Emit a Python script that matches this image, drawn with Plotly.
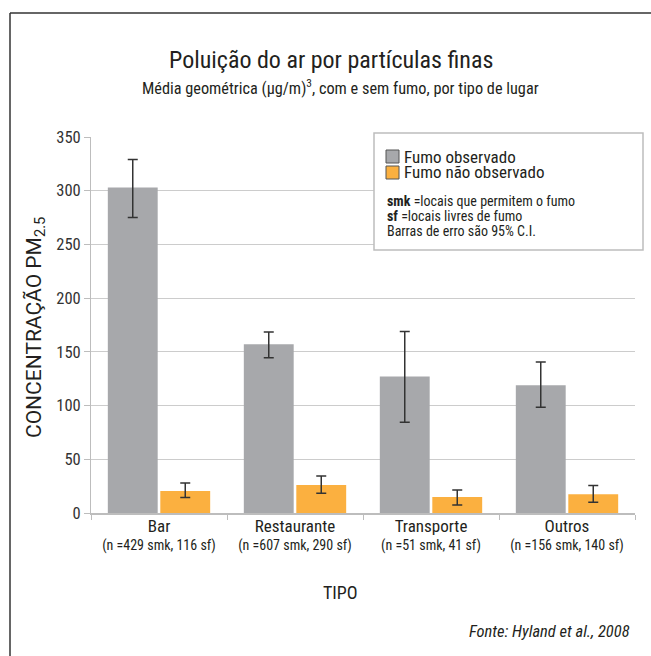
import plotly.graph_objects as go

# ---- data ----
categories = ["Bar", "Restaurante", "Transporte", "Outros"]
sample_labels = ["(n =429 smk, 116 sf)", "(n =607 smk, 290 sf)",
                 "(n =51 smk, 41 sf)", "(n =156 smk, 140 sf)"]
smk_values = [303, 157, 127, 119]
smk_upper = [329, 168.5, 169, 140.5]
smk_lower = [275, 144.5, 84.5, 98.5]
sf_values = [20.5, 26, 15, 17.5]
sf_upper = [28, 34.5, 21.5, 25.5]
sf_lower = [14.5, 18.5, 7.5, 10]
y_ticks = [0, 50, 100, 150, 200, 250, 300, 350]

FONT = "Roboto Condensed, Roboto, sans-serif"
GRAY = "#a7a8ab"
ORANGE = "#fbb040"
TXT = "#231f20"

W, H = 651, 656
L, R, T, B = 91, 635, 137, 513


def px(x):
    return (x - L) / (R - L)


def py(y):
    return (B - y) / (B - T)


ticktext = [f"<span style='font-size:17px'>{c}</span><br>{s}"
            for c, s in zip(categories, sample_labels)]

fig = go.Figure()
fig.add_trace(go.Bar(
    x=categories, y=smk_values, name="Fumo observado",
    marker=dict(color=GRAY, line=dict(width=0)),
    error_y=dict(type="data", symmetric=False,
                 array=[u - v for u, v in zip(smk_upper, smk_values)],
                 arrayminus=[v - l for v, l in zip(smk_values, smk_lower)],
                 color="#333333", thickness=1.5, width=5),
))
fig.add_trace(go.Bar(
    x=categories, y=sf_values, name="Fumo não observado",
    marker=dict(color=ORANGE, line=dict(width=0)),
    error_y=dict(type="data", symmetric=False,
                 array=[u - v for u, v in zip(sf_upper, sf_values)],
                 arrayminus=[v - l for v, l in zip(sf_values, sf_lower)],
                 color="#333333", thickness=1.5, width=5),
))

shapes = [
    # outer frame (top and left)
    dict(type="line", xref="paper", yref="paper", x0=px(10), x1=px(660),
         y0=py(13), y1=py(13), line=dict(color="#333333", width=1.5)),
    dict(type="line", xref="paper", yref="paper", x0=px(10), x1=px(10),
         y0=py(13), y1=py(670), line=dict(color="#333333", width=1.5)),
    # legend box
    dict(type="rect", xref="paper", yref="paper", x0=px(374), x1=px(643),
         y0=py(133), y1=py(250), fillcolor="white",
         line=dict(color="#bdbdbd", width=1.5), layer="above"),
    dict(type="rect", xref="paper", yref="paper", x0=px(386), x1=px(399),
         y0=py(150), y1=py(163), fillcolor=GRAY,
         line=dict(color="#555555", width=1), layer="above"),
    dict(type="rect", xref="paper", yref="paper", x0=px(386), x1=px(399),
         y0=py(166), y1=py(179), fillcolor=ORANGE,
         line=dict(color="#555555", width=1), layer="above"),
]


def ann(text, x, y, size, xanchor="center", yanchor="middle", angle=0,
        color=TXT, family=FONT):
    return dict(text=text, xref="paper", yref="paper", x=px(x), y=py(y),
                xanchor=xanchor, yanchor=yanchor, showarrow=False,
                textangle=angle, font=dict(family=family, size=size, color=color))


annotations = [
    ann("Poluição do ar por partículas finas", 331, 60, 24),
    ann("Média geométrica (µg/m)<sup>3</sup>, com e sem fumo, por tipo de lugar", 340, 87, 16.3),
    ann("Fumo observado", 402, 157, 17, xanchor="left"),
    ann("Fumo não observado", 402, 172, 17, xanchor="left"),
    ann("<b>smk</b> =locais que permitem o fumo", 385, 201, 14, xanchor="left"),
    ann("<b>sf</b> =locais livres de fumo", 385, 216, 14, xanchor="left"),
    ann("Barras de erro são 95% C.I.", 385, 231, 14, xanchor="left"),
    ann("CONCENTRAÇÃO PM<sub>2.5</sub>", 35, 328, 21, angle=-90,
        family="Roboto, sans-serif"),
    ann("TIPO", 340, 592, 18),
    ann("<i>Fonte: Hyland et al., 2008</i>", 632, 631, 16.5, xanchor="right"),
]

fig.update_layout(
    width=W, height=H,
    margin=dict(l=L, r=W - R, t=T, b=H - B, pad=0),
    paper_bgcolor="white", plot_bgcolor="white",
    barmode="group", bargap=0.228, bargroupgap=0.05,
    showlegend=False,
    font=dict(family=FONT, color=TXT),
    shapes=shapes, annotations=annotations,
)
fig.update_xaxes(
    type="category", tickmode="array", tickvals=categories, ticktext=ticktext,
    tickson="boundaries", ticks="outside", ticklen=5, tickcolor="#bdbdbd",
    showline=True, linecolor="#bdbdbd", linewidth=1.5,
    tickfont=dict(family=FONT, size=14, color=TXT), showgrid=False,
)
fig.update_yaxes(
    range=[0, 350], tickvals=y_ticks, ticks="outside", ticklen=6,
    tickcolor="#bdbdbd", showline=True, linecolor="#bdbdbd", linewidth=1,
    gridcolor="#cccccc", gridwidth=1.2, zeroline=False,
    tickfont=dict(family=FONT, size=16.5, color="#333333"),
)

fig.write_html("out.html", config={"displayModeBar": False},
               post_script="document.body.style.margin='0';")
